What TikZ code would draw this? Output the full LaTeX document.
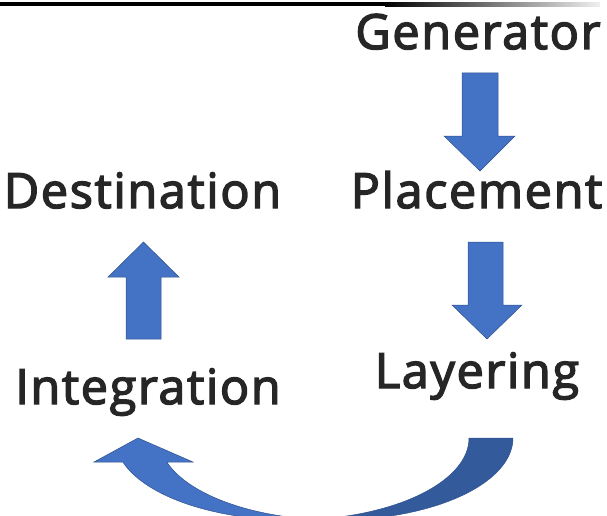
\documentclass[tikz,border=0pt]{standalone}
\usepackage{fontspec}
\newfontfamily\labelfont{Open Sans}[UprightFeatures={FakeBold=3},LetterSpace=3.5]
\usetikzlibrary{positioning}
\definecolor{arrowblue}{HTML}{4472C4}
\definecolor{arrowedge}{HTML}{2F528F}
\definecolor{arrowdark}{HTML}{335A9B}
\definecolor{labelgray}{HTML}{262626}

\begin{document}
\begin{tikzpicture}[x=1pt,y=-1pt]
  \tikzstyle{stage}=[anchor=base,inner sep=0pt,text=labelgray,font=\labelfont\fontsize{48.5}{52}\selectfont]
  \tikzstyle{blockarrow}=[fill=arrowblue,draw=arrowedge,line width=0.5pt,line join=miter]
  \useasboundingbox (0,0) rectangle (607,516);
  \clip (0,0) rectangle (607,516);
  % rule at the top
  \fill[black] (0,2.5) rectangle (385,6.5);
  \shade[left color=black,right color=gray!12] (385,2.5) rectangle (600,6.5);
  % stages
  \node[stage] (gen) at (478,49) {Generator};
  \node[stage] (place) at (476.5,208) {Placement};
  \node[stage] (layer) at (477,388) {Layering};
  \node[stage] (integ) at (148,404) {Integration};
  \node[stage] (dest) at (142.5,208) {Destination};
  % block arrows
  \draw[blockarrow] (462,73) -- (498,73) -- (498,136) -- (515,136) -- (480,171) -- (444,136) -- (462,136) -- cycle;
  \draw[blockarrow] (468,242) -- (503,242) -- (503,305) -- (522,305) -- (487,339) -- (452,305) -- (468,305) -- cycle;
  \draw[blockarrow] (126,339) -- (161,339) -- (161,277) -- (179,277) -- (143.5,242) -- (108,277) -- (126,277) -- cycle;
  % curved arrow from layering back to integration
  \draw[blockarrow,fill=arrowdark] (469,438) arc[start angle=0,end angle=82.86,x radius=177,y radius=82]
    arc[start angle=97.14,end angle=0,x radius=177,y radius=82] -- cycle;
  \draw[blockarrow] (166.8,462) -- (193,462) -- (138,438) -- (94,462) -- (122.8,462)
    arc[start angle=162.98,end angle=82.86,x radius=177,y radius=82]
    arc[start angle=97.14,end angle=162.98,x radius=177,y radius=82] -- cycle;
\end{tikzpicture}
\end{document}
